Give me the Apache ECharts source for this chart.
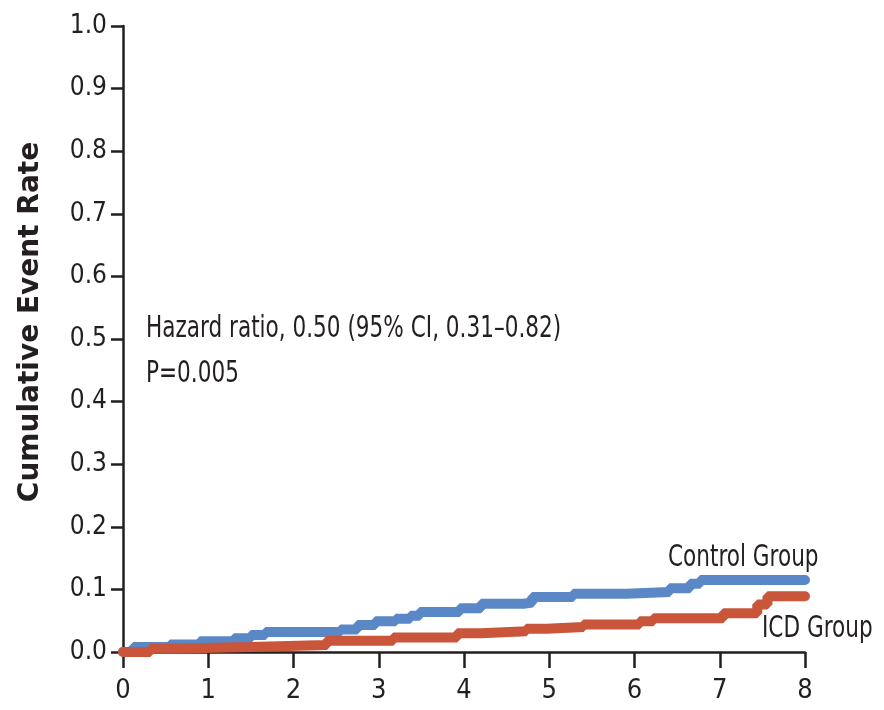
<!DOCTYPE html>
<html>
<head>
<meta charset="utf-8">
<script src="https://cdn.jsdelivr.net/npm/echarts@6/dist/echarts.min.js"></script>
<style>
  html, body { margin: 0; padding: 0; background: #fff; }
  #chart { width: 884px; height: 710px; }
</style>
</head>
<body>
<div id="chart"></div>
<script>
// Kaplan-Meier style step curves (years, cumulative event rate)
const controlTimes = [0, 0.12, 0.55, 0.9, 1.3, 1.5, 1.67, 2.55, 2.75, 2.96, 3.2, 3.37, 3.48, 3.95, 4.2, 4.7, 4.8, 5.28, 5.91, 6.41, 6.65, 6.77, 8]
const controlRates = [0, 0.008, 0.012, 0.017, 0.022, 0.027, 0.032, 0.036, 0.043, 0.049, 0.053, 0.058, 0.064, 0.070, 0.077, 0.079, 0.088, 0.093, 0.096, 0.102, 0.109, 0.115, 0.115]

const icdTimes = [0, 0.32, 0.55, 1.49, 2.39, 3.17, 3.92, 4.2, 4.73, 4.97, 5.4, 6.06, 6.22, 7.04, 7.44, 7.56, 8]
const icdRates = [0, 0.005, 0.008, 0.011, 0.018, 0.023, 0.030, 0.033, 0.037, 0.040, 0.044, 0.049, 0.054, 0.062, 0.076, 0.089, 0.089]

const xTicks = [0, 1, 2, 3, 4, 5, 6, 7, 8]
const yTicks = [0, 0.1, 0.2, 0.3, 0.4, 0.5, 0.6, 0.7, 0.8, 0.9, 1.0]

const ink = '#231f20'
const narrow = "'DejaVu Sans Condensed', 'DejaVu Sans', sans-serif"

const toPairs = (xs, ys) => xs.map((x, i) => [x, ys[i]])

// condensed text, squeezed a bit more to get the narrow look of the original
const note = (text, x, y) => ({
  type: 'text',
  x,
  y,
  scaleX: 0.8,
  style: { text, fill: ink, font: `30px ${narrow}`, verticalAlign: 'middle' },
})

const chart = echarts.init(document.getElementById('chart'))

chart.setOption({
  animation: false,
  grid: { left: 123, right: 79, top: 26, bottom: 58 },
  xAxis: {
    type: 'value',
    min: xTicks[0],
    max: xTicks[xTicks.length - 1],
    interval: 1,
    axisLine: { lineStyle: { color: ink, width: 2.5 } },
    axisTick: { show: true, length: 16, lineStyle: { color: ink, width: 2.5 } },
    axisLabel: { color: ink, fontSize: 27, fontFamily: narrow, margin: 25 },
    splitLine: { show: false },
  },
  yAxis: {
    type: 'value',
    min: yTicks[0],
    max: yTicks[yTicks.length - 1],
    interval: 0.1,
    name: 'Cumulative Event Rate',
    nameLocation: 'middle',
    nameGap: 78,
    nameTextStyle: {
      color: ink,
      fontSize: 28,
      fontWeight: 'bold',
      fontFamily: "'DejaVu Sans', sans-serif",
      padding: [0, 0, 0, 34],
    },
    axisLine: { show: true, lineStyle: { color: ink, width: 2.5 } },
    axisTick: { show: true, length: 12, lineStyle: { color: ink, width: 2.5 } },
    axisLabel: {
      color: ink,
      fontSize: 26,
      fontFamily: narrow,
      margin: 16,
      formatter: (v) => v.toFixed(1),
    },
    splitLine: { show: false },
  },
  series: [
    {
      name: 'Control Group',
      type: 'line',
      step: 'end',
      data: toPairs(controlTimes, controlRates),
      showSymbol: false,
      symbol: 'none',
      lineStyle: { color: '#5a88c6', width: 10, cap: 'round' },
      emphasis: { disabled: true },
    },
    {
      name: 'ICD Group',
      type: 'line',
      step: 'end',
      data: toPairs(icdTimes, icdRates),
      showSymbol: false,
      symbol: 'none',
      lineStyle: { color: '#c9553b', width: 10, cap: 'round' },
      emphasis: { disabled: true },
    },
  ],
  graphic: [
    note('Hazard ratio, 0.50 (95% CI, 0.31\u20130.82)', 146, 329),
    note('P=0.005', 146, 374),
    note('Control Group', 668, 558),
    note('ICD Group', 762, 629),
  ],
})
</script>
</body>
</html>
